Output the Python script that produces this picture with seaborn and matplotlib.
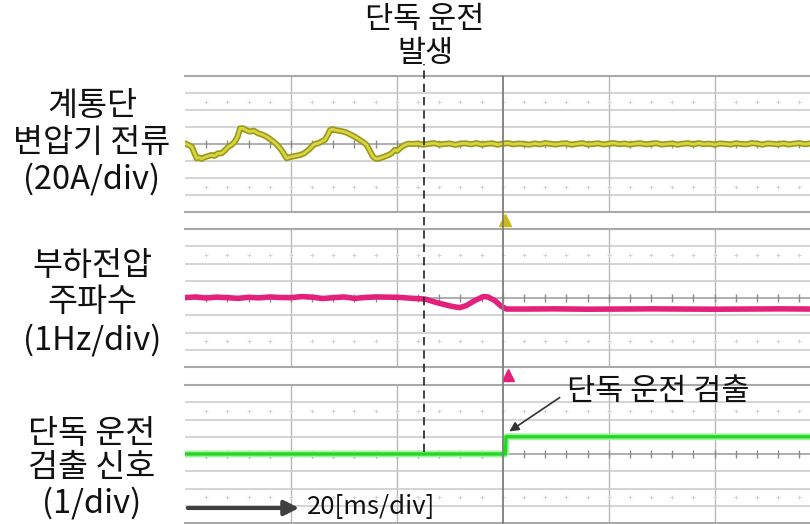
import matplotlib
matplotlib.use("Agg")
import matplotlib.pyplot as plt
from matplotlib.patches import FancyArrowPatch
import pandas as pd
import seaborn as sns

# ---- captured traces (time in ms, amplitude in divisions) ----
current_t = [0, 0.6, 1.3, 1.8, 2.2, 2.7, 3.1, 3.7, 4.3, 5.0,
             5.6, 6.2, 6.9, 7.5, 8.2, 8.8, 9.4, 9.9, 10.4, 11.0,
             11.6, 12.3, 13.0, 13.8, 14.6, 15.4, 16.0, 16.7, 17.4, 18.2,
             18.7, 19.2, 19.7, 20.1, 20.9, 21.7, 22.5, 23.3, 23.8, 24.2,
             24.7, 25.2, 25.8, 26.4, 26.9, 27.4, 27.9, 28.3, 29.1, 29.9,
             30.6, 31.4, 32.2, 33.0, 33.7, 34.3, 34.9, 35.5, 36.1, 36.8,
             37.6, 38.4, 39.0, 39.6, 40.1, 40.6, 41.0, 41.5, 42.2, 42.8,
             44, 45, 46, 47, 48, 49, 50, 51, 52, 53,
             54, 55, 56, 57, 58, 59, 60, 61, 62, 63,
             64, 65, 66, 67, 68, 69, 70, 71, 72, 73,
             74, 75, 76, 77, 78, 79, 80, 81, 82, 83,
             84, 85, 86, 87, 88, 89, 90, 91, 92, 93,
             94, 95, 96, 97, 98, 99, 100, 101, 102, 103,
             104, 105, 106, 107, 108, 109, 110, 111, 112, 113,
             114, 115, 116, 117, 118]
current_v = [0.04, -0.05, -0.16, -0.55, -0.84, -0.80, -0.88, -0.78, -0.72, -0.65,
             -0.70, -0.55, -0.55, -0.38, -0.16, -0.05, 0.14, 0.40, 0.92, 0.92,
             0.80, 0.73, 0.78, 0.63, 0.55, 0.43, 0.30, 0.14, -0.05, -0.35,
             -0.60, -0.84, -0.78, -0.75, -0.70, -0.65, -0.55, -0.35, -0.20, -0.06,
             0.02, 0.04, 0.15, 0.24, 0.50, 0.82, 0.88, 0.82, 0.78, 0.73,
             0.66, 0.53, 0.40, 0.24, 0.10, -0.06, -0.40, -0.75, -0.88, -0.84,
             -0.75, -0.65, -0.55, -0.35, -0.40, -0.25, -0.15, -0.06, 0.02, 0.00,
             0.02, -0.04, 0.01, 0.05, -0.03, 0.00, 0.03, -0.05, 0.02, 0.04,
             -0.02, 0.05, -0.03, 0.01, 0.04, -0.04, 0.02, 0.05, -0.02, 0.03,
             0.00, -0.04, 0.03, -0.02, 0.05, 0.01, -0.03, 0.02, 0.04, -0.04,
             0.01, 0.05, -0.02, 0.00, 0.04, -0.03, 0.02, 0.05, -0.01, 0.03,
             -0.04, 0.02, 0.04, -0.02, 0.01, 0.05, -0.03, 0.00, 0.03, -0.04,
             0.02, 0.04, -0.02, 0.05, -0.01, 0.02, -0.04, 0.03, 0.01, -0.03,
             0.04, 0.00, -0.02, 0.05, 0.02, -0.04, 0.03, 0.01, -0.02, 0.04,
             -0.03, 0.02, 0.05, -0.01, 0.03]

freq_t = [0, 2, 4, 6, 8, 10, 12, 14, 16, 18,
          20, 22, 24, 26, 28, 30, 32, 34, 36, 38,
          40.2, 43, 45.3, 47.8, 50.3, 51.9, 53.1, 54.7, 56.3, 57.2,
          58.5, 59.7, 60.7, 64, 70, 76, 82, 88, 94, 100,
          106, 112, 118]
freq_v = [0.02, 0.06, 0.00, 0.05, 0.02, -0.02, 0.04, 0.01, 0.06, 0.03,
          0.02, 0.08, 0.05, -0.03, 0.02, 0.06, -0.02, 0.03, 0.06, 0.05,
          0.04, -0.02, -0.06, -0.29, -0.48, -0.56, -0.44, -0.15, 0.08, 0.06,
          -0.15, -0.48, -0.64, -0.64, -0.63, -0.65, -0.64, -0.63, -0.64, -0.65,
          -0.64, -0.63, -0.64]

detect_t = [0, 10, 20, 30, 40, 50, 60.5, 60.6, 70, 80, 90, 100, 110, 118]
detect_v = [0, 0, 0, 0, 0, 0, 0, 1, 1, 1, 1, 1, 1, 1]

event_t = 45.1      # islanding onset
trigger_t = 60.0    # scope trigger position
t_max = 118.0

panel_labels = [["계통단", "변압기 전류", "(20A/div)"],
                ["부하전압", "주파수", "(1Hz/div)"],
                ["단독 운전", "검출 신호", "(1/div)"]]
event_label = ["단독 운전", "발생"]
detect_label = "단독 운전 검출"
time_label = "20[ms/div]"

sns.set_theme(style="white")
plt.rcParams["font.family"] = ["Noto Sans CJK KR", "DejaVu Sans"]

W, H = 810, 524
fig = plt.figure(figsize=(W / 100, H / 100), dpi=100)


def fx(x):
    return x / W


def fy(y):
    return 1 - y / H


left, width = fx(185), 625 / W
panel_px = [(76, 212), (229, 367), (385, 523)]
axes = []
for top, bot in panel_px:
    ax = fig.add_axes([left, fy(bot), width, (bot - top) / H])
    axes.append(ax)

grid_major = "#c9c9c9"
for ax in axes:
    ax.set_xlim(0, t_max)
    ax.set_ylim(-4, 4)
    ax.set_xticks([20, 40, 80, 100])
    ax.set_yticks([-3, -2, -1, 1, 2, 3])
    ax.tick_params(left=False, bottom=False, labelleft=False, labelbottom=False)
    ax.grid(True, axis="y", color=grid_major, lw=1.1)
    ax.grid(True, axis="x", color="#b8b8b8", lw=1.0)
    for s in ("left", "right"):
        ax.spines[s].set_visible(False)
    for s in ("top", "bottom"):
        ax.spines[s].set_color("#a9a9a9")
        ax.spines[s].set_linewidth(1.5)
    ax.axhline(0, color="#9a9a9a", lw=1.1, zorder=1)
    ticks = list(range(4, 118, 4))
    ax.plot(ticks, [0] * len(ticks), ls="none", marker="|", ms=6,
            mew=1.0, color="#8c8c8c", zorder=1)
    for yy in (2.5, -2.5):
        ax.plot(ticks, [yy] * len(ticks), ls="none", marker="+", ms=3,
                mew=0.7, color="#d2d2d2", zorder=1)

df_cur = pd.DataFrame({"t": current_t, "v": current_v})
df_freq = pd.DataFrame({"t": freq_t, "v": freq_v})
df_det = pd.DataFrame({"t": detect_t, "v": detect_v})

sns.lineplot(data=df_cur, x="t", y="v", ax=axes[0], sort=False, estimator=None,
             color="#9a981e", lw=4.4, zorder=3)
sns.lineplot(data=df_cur, x="t", y="v", ax=axes[0], sort=False, estimator=None,
             color="#d8d63c", lw=2.0, zorder=4)
sns.lineplot(data=df_freq, x="t", y="v", ax=axes[1], sort=False, estimator=None,
             color="#e3217a", lw=4.0, zorder=3)
sns.lineplot(data=df_det, x="t", y="v", ax=axes[2], sort=False, estimator=None,
             color="#a6f0a6", lw=5.0, zorder=3)
sns.lineplot(data=df_det, x="t", y="v", ax=axes[2], sort=False, estimator=None,
             color="#22d822", lw=2.4, zorder=4)
for ax in axes:
    ax.set_xlabel("")
    ax.set_ylabel("")

# trigger markers below the first two traces
axes[0].plot([trigger_t + 0.5], [-4.45], marker="^", ms=8, color="#c9b91c",
             clip_on=False, zorder=5)
axes[1].plot([trigger_t + 0.9], [-4.45], marker="^", ms=8, color="#e3217a",
             clip_on=False, zorder=5)

# overlay for lines that run across all panels
ov = fig.add_axes([left, 0, width, 1], zorder=10)
ov.set_xlim(0, t_max)
ov.set_ylim(0, 1)
ov.axis("off")
ov.patch.set_alpha(0)
ov.axvline(trigger_t, ymin=0, ymax=fy(76), color="#7d7d7d", lw=1.3, zorder=2)
ov.axvline(event_t, ymin=fy(452), ymax=fy(64), color="#222222", lw=1.2,
           ls=(0, (5, 3)), zorder=3)

for i, line in enumerate(event_label):
    fig.text(fx(425), fy([19, 53][i]), line, ha="center", va="center",
             fontsize=22, color="#111111")

label_rows = [[106, 143, 179], [266, 302, 340], [434, 468, 503]]
for lines, rows in zip(panel_labels, label_rows):
    for line, y in zip(lines, rows):
        fig.text(fx(92), fy(y), line, ha="center", va="center",
                 fontsize=23.5, color="#111111")

# detection callout
fig.text(fx(567), fy(391), detect_label, ha="left", va="center",
         fontsize=22, color="#111111")
fig.add_artist(FancyArrowPatch((fx(562), fy(396)), (fx(507), fy(433)),
                               transform=fig.transFigure, arrowstyle="-|>",
                               mutation_scale=14, color="#333333", lw=1.2))

# time-base arrow
fig.add_artist(FancyArrowPatch((fx(185), fy(508)), (fx(302), fy(508)),
                               transform=fig.transFigure, arrowstyle="-|>",
                               mutation_scale=22, color="#404040", lw=3))
fig.text(fx(307), fy(507), time_label, ha="left", va="center",
         fontsize=18.5, color="#111111")

fig.savefig("out.png", dpi=100)
